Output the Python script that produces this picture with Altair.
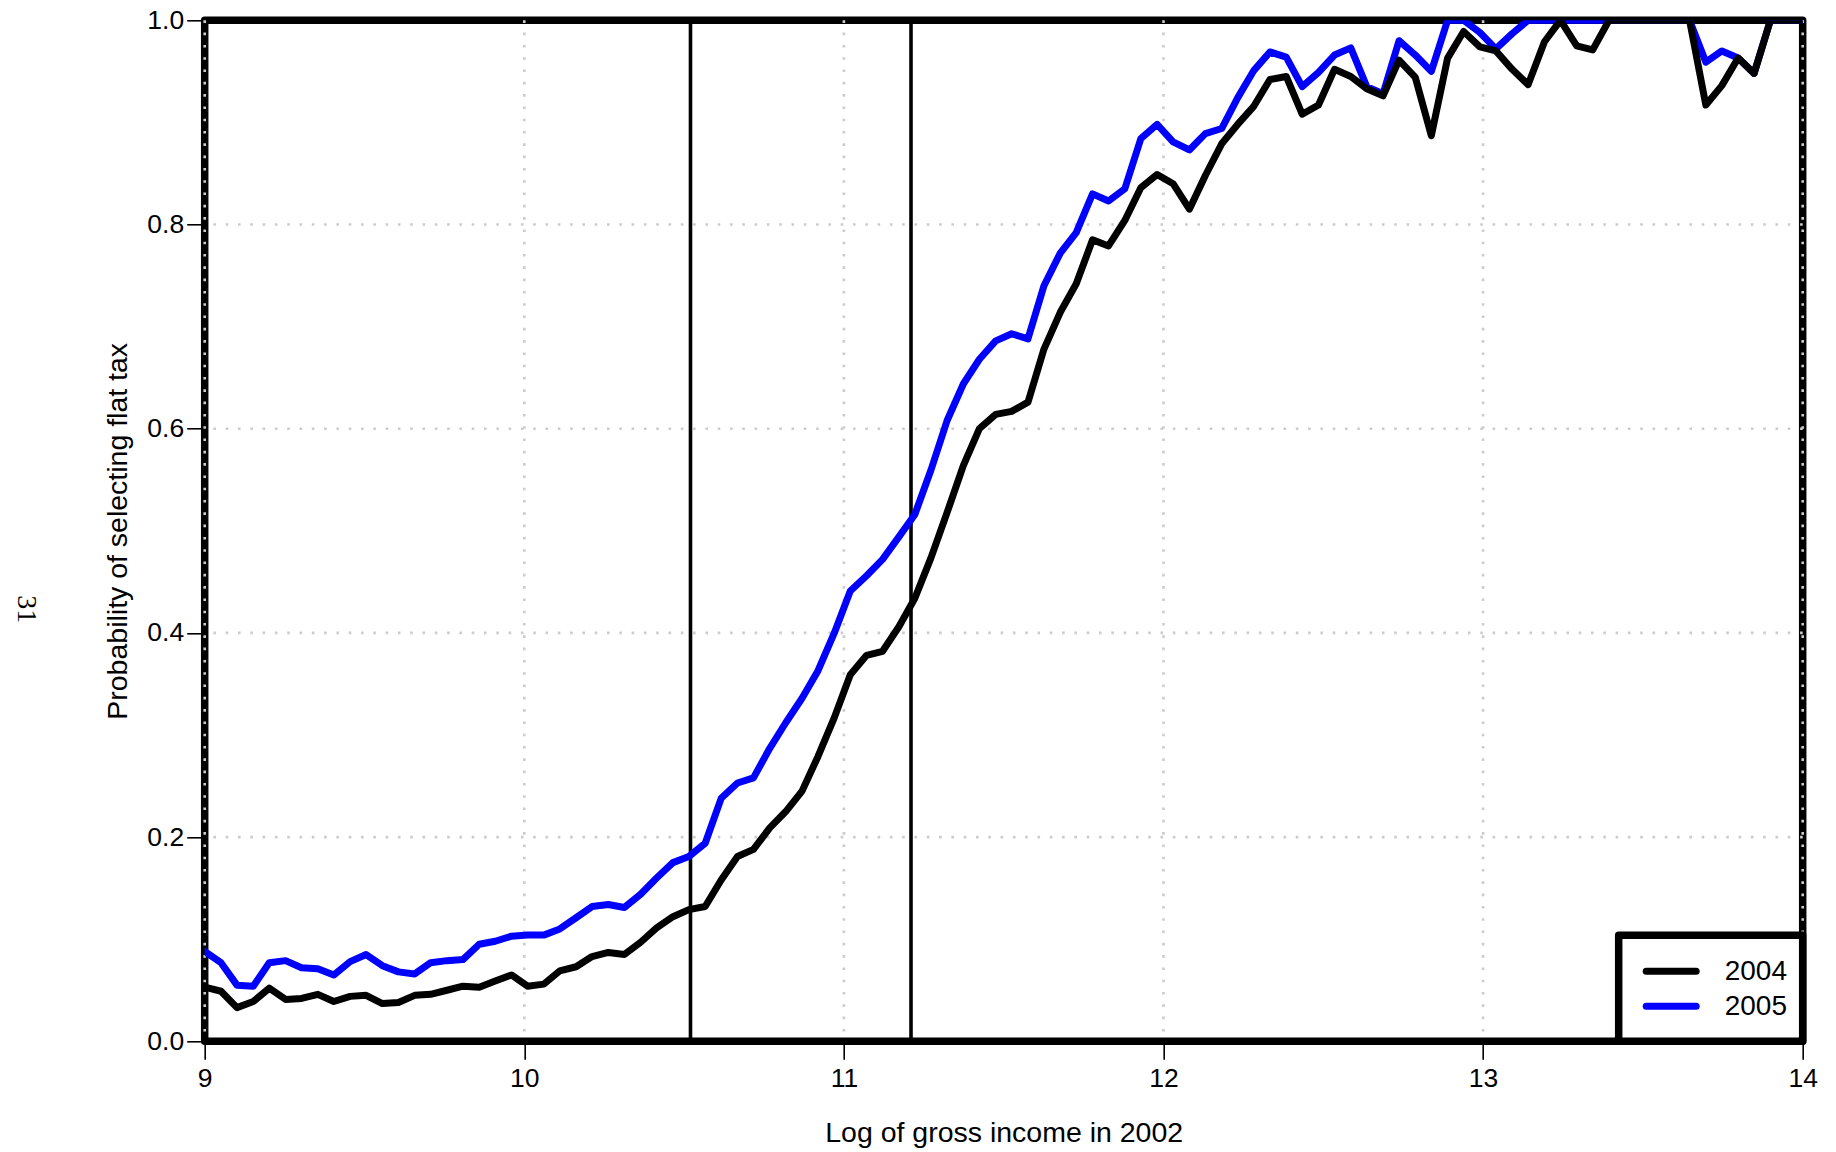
import altair as alt
import pandas as pd

# Log of gross income (2002), 100 evenly spaced evaluation points
log_income = [
    9.000, 9.051, 9.101, 9.152, 9.202, 9.253, 9.303, 9.354, 9.404, 9.455,
    9.505, 9.556, 9.606, 9.657, 9.707, 9.758, 9.808, 9.859, 9.909, 9.960,
    10.010, 10.061, 10.111, 10.162, 10.212, 10.263, 10.313, 10.364, 10.414, 10.465,
    10.515, 10.566, 10.616, 10.667, 10.717, 10.768, 10.818, 10.869, 10.919, 10.970,
    11.020, 11.071, 11.121, 11.172, 11.222, 11.273, 11.323, 11.374, 11.424, 11.475,
    11.525, 11.576, 11.626, 11.677, 11.727, 11.778, 11.828, 11.879, 11.929, 11.980,
    12.030, 12.081, 12.131, 12.182, 12.232, 12.283, 12.333, 12.384, 12.434, 12.485,
    12.535, 12.586, 12.636, 12.687, 12.737, 12.788, 12.838, 12.889, 12.939, 12.990,
    13.040, 13.091, 13.141, 13.192, 13.242, 13.293, 13.343, 13.394, 13.444, 13.495,
    13.545, 13.596, 13.646, 13.697, 13.747, 13.798, 13.848, 13.899, 13.949, 14.000,
]

# Probability of selecting the flat tax, 2004
p2004 = [
    0.053, 0.049, 0.033, 0.039, 0.052, 0.041, 0.042, 0.046, 0.039, 0.044,
    0.045, 0.037, 0.038, 0.045, 0.046, 0.050, 0.054, 0.053, 0.059, 0.065,
    0.054, 0.056, 0.069, 0.073, 0.083, 0.087, 0.085, 0.097, 0.111, 0.122,
    0.129, 0.132, 0.158, 0.181, 0.188, 0.209, 0.225, 0.245, 0.279, 0.317,
    0.359, 0.378, 0.382, 0.406, 0.434, 0.474, 0.518, 0.564, 0.600, 0.614,
    0.617, 0.626, 0.678, 0.714, 0.742, 0.785, 0.779, 0.804, 0.836, 0.849,
    0.840, 0.815, 0.848, 0.879, 0.898, 0.916, 0.942, 0.945, 0.908, 0.917,
    0.952, 0.945, 0.933, 0.926, 0.961, 0.944, 0.887, 0.963, 0.989, 0.974,
    0.970, 0.952, 0.937, 0.979, 1.000, 0.975, 0.971, 1.000, 1.000, 1.000,
    1.000, 1.000, 1.000, 0.917, 0.936, 0.963, 0.948, 1.000, 1.000, 1.000,
]

# Probability of selecting the flat tax, 2005
p2005 = [
    0.088, 0.077, 0.055, 0.054, 0.077, 0.079, 0.072, 0.071, 0.065, 0.078,
    0.085, 0.074, 0.068, 0.066, 0.077, 0.079, 0.080, 0.095, 0.098, 0.103,
    0.104, 0.104, 0.110, 0.121, 0.132, 0.134, 0.131, 0.144, 0.160, 0.175,
    0.181, 0.194, 0.238, 0.253, 0.258, 0.287, 0.312, 0.336, 0.363, 0.400,
    0.441, 0.456, 0.472, 0.494, 0.516, 0.560, 0.608, 0.644, 0.668, 0.686,
    0.693, 0.688, 0.740, 0.772, 0.792, 0.830, 0.823, 0.835, 0.884, 0.898,
    0.881, 0.873, 0.889, 0.894, 0.924, 0.951, 0.969, 0.964, 0.935, 0.949,
    0.966, 0.973, 0.935, 0.928, 0.980, 0.966, 0.950, 1.000, 1.000, 0.988,
    0.972, 0.987, 1.000, 1.000, 1.000, 1.000, 1.000, 1.000, 1.000, 1.000,
    1.000, 1.000, 1.000, 0.959, 0.970, 0.963, 0.948, 1.000, 1.000, 1.000,
]

years = ["2004", "2005"]
line_colors = ["#000000", "#0000ff"]

# Income thresholds marked with vertical lines
thresholds = [10.52, 11.21]

x_ticks = [9, 10, 11, 12, 13, 14]
y_ticks = [0.0, 0.2, 0.4, 0.6, 0.8, 1.0]
x_grid = [9, 10, 11, 12, 13, 14]
y_grid = [0.2, 0.4, 0.6, 0.8]

W, H = 1598, 1021
SANS = "Liberation Sans"

curves = pd.DataFrame({
    "income": log_income * 2,
    "prob": p2004 + p2005,
    "year": [years[0]] * len(log_income) + [years[1]] * len(log_income),
})

x_axis = alt.Axis(
    values=x_ticks, format="d", title="Log of gross income in 2002",
    domain=False, grid=False, tickSize=18, tickWidth=1.6, tickColor="black",
    labelFont=SANS, labelFontSize=26.5, labelColor="black", labelPadding=6,
    labelFlush=False, labelOverlap=False,
    titleFont=SANS, titleFontSize=28.5, titleFontWeight="normal", titleColor="black",
    titleBaseline="alphabetic", titleAlign="center", titleX=W / 2, titleY=100.5,
)
y_axis = alt.Axis(
    values=y_ticks, format=".1f", title="Probability of selecting flat tax",
    domain=False, grid=False, tickSize=18, tickWidth=1.6, tickColor="black",
    labelFont=SANS, labelFontSize=26.5, labelColor="black", labelPadding=3,
    labelFlush=False, labelOverlap=False,
    titleFont=SANS, titleFontSize=28.5, titleFontWeight="normal", titleColor="black",
    titleAngle=270, titleBaseline="alphabetic", titleAlign="center",
    titleX=-78, titleY=H / 2,
)

x_scale = alt.Scale(domain=[9, 14], nice=False, zero=False)
y_scale = alt.Scale(domain=[0, 1], nice=False, zero=False)


def xe(field):
    return alt.X(field, type="quantitative", scale=x_scale, axis=x_axis,
                 title="Log of gross income in 2002")


def ye(field):
    return alt.Y(field, type="quantitative", scale=y_scale, axis=y_axis,
                 title="Probability of selecting flat tax")


one = pd.DataFrame({"k": [0]})

# Plot frame
frame = alt.Chart(one).mark_rect(
    filled=False, stroke="black", strokeWidth=7.5, strokeJoin="round"
).encode(x=alt.value(0), x2=alt.value(W), y=alt.value(0), y2=alt.value(H))

# Dotted reference grid
grid_style = dict(color="#cccccc", strokeWidth=2.6, strokeDash=[2.6, 9.7])
grid_v = alt.Chart(pd.DataFrame({"income": x_grid})).mark_rule(**grid_style).encode(
    x=xe("income"))
grid_h = alt.Chart(pd.DataFrame({"prob": y_grid})).mark_rule(**grid_style).encode(
    y=ye("prob"))

# Threshold lines
thr = alt.Chart(pd.DataFrame({"income": thresholds})).mark_rule(
    color="black", strokeWidth=3.6).encode(x=xe("income"))

line_style = dict(strokeWidth=7, strokeJoin="round", strokeCap="round", clip=True)
line_2005 = alt.Chart(curves).transform_filter(
    alt.datum.year == years[1]).mark_line(color=line_colors[1], **line_style).encode(
    x=xe("income"), y=ye("prob"))
line_2004 = alt.Chart(curves).transform_filter(
    alt.datum.year == years[0]).mark_line(color=line_colors[0], **line_style).encode(
    x=xe("income"), y=ye("prob"))

# Legend in the lower right corner
leg_box = alt.Chart(one).mark_rect(
    fill="white", stroke="black", strokeWidth=7.5, strokeJoin="round"
).encode(x=alt.value(1414), x2=alt.value(W), y=alt.value(915), y2=alt.value(H))

legend_layers = []
for i, (yr, col) in enumerate(zip(years, line_colors)):
    row_y = 951 + 35 * i
    legend_layers.append(
        alt.Chart(one).mark_rule(color=col, strokeWidth=7, strokeCap="round").encode(
            x=alt.value(1441.5), x2=alt.value(1491.5), y=alt.value(row_y))
    )
    legend_layers.append(
        alt.Chart(one).mark_text(
            align="left", baseline="middle", font=SANS, fontSize=28, color="black"
        ).encode(x=alt.value(1520), y=alt.value(row_y + 1), text=alt.value(yr))
    )

# Page number printed sideways in the margin
page_no = alt.Chart(one).mark_text(
    angle=90, font="Liberation Serif", fontSize=28, color="black",
    align="center", baseline="middle"
).encode(x=alt.value(-179), y=alt.value(589), text=alt.value("31"))

chart = alt.layer(
    frame, grid_v, grid_h, thr, line_2005, line_2004, leg_box, *legend_layers, page_no
).properties(
    width=W, height=H,
    padding={"left": 204.7, "top": 20.3, "right": 33, "bottom": 110},
    autosize=alt.AutoSizeParams(type="none"),
    background="white",
).configure_view(stroke=None)

chart.save("out.html", embed_options={"renderer": "svg", "actions": False})
